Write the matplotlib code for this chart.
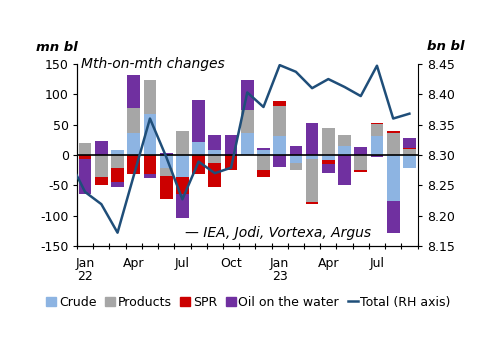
import numpy as np
import matplotlib
matplotlib.use("Agg")
import matplotlib.pyplot as plt
from matplotlib.patches import Patch
from matplotlib.lines import Line2D

plt.rcParams["font.family"] = ["DejaVu Sans"]
plt.rcParams["axes.unicode_minus"] = False

# Jan 22 .. Sep 23, month-on-month changes (mn bl)
months = ["Jan\n22", "Feb", "Mar", "Apr", "May", "Jun", "Jul", "Aug", "Sep", "Oct", "Nov", "Dec",
          "Jan\n23", "Feb", "Mar", "Apr", "May", "Jun", "Jul", "Aug", "Sep"]
crude = [0, 0, 9, 36, 68, -22, -37, 22, 9, 0, 37, 9, 31, -13, -7, -8, 15, 0, 31, -75, -21]
products = [19, -37, -22, 41, 56, -13, 40, 0, -14, 0, 37, -25, 50, -12, -70, 44, 18, -25, 20, 37, 10]
spr = [-7, -12, -22, -31, -31, -38, -28, -31, -39, -24, 0, -12, 8, 0, -4, -7, 0, -3, 1, 3, 1]
water = [-57, 23, -9, 54, -7, 4, -38, 68, 24, 33, 50, 3, -19, 14, 53, -15, -49, 13, -4, -53, 17]

# total stocks (bn bl), first value is Dec 21 (clipped at the axis)
total = [8.292, 8.239, 8.219, 8.172, 8.266, 8.360, 8.297, 8.227, 8.289, 8.270, 8.279, 8.403,
         8.379, 8.448, 8.437, 8.410, 8.425, 8.412, 8.397, 8.447, 8.360, 8.368]

shown_labels = {0: "Jan\n22", 3: "Apr", 6: "Jul", 9: "Oct", 12: "Jan\n23", 15: "Apr", 18: "Jul"}

series = [("Crude", crude, "#8db4e2"),
          ("Products", products, "#a6a6a6"),
          ("SPR", spr, "#cc0000"),
          ("Oil on the water", water, "#7030a0")]
line_color = "#1f4e79"

fig = plt.figure(figsize=(5, 3.53), dpi=100)
ax = fig.add_axes([0.154, 0.303, 0.681, 0.516])

x = np.arange(len(months))
pos_base = np.zeros(len(months))
neg_base = np.zeros(len(months))
for name, vals, col in series:
	v = np.array(vals, dtype=float)
	bottom = np.where(v >= 0, pos_base, neg_base)
	ax.bar(x, v, bottom=bottom, width=0.78, color=col, linewidth=0, zorder=2)
	pos_base += np.where(v > 0, v, 0)
	neg_base += np.where(v < 0, v, 0)

ax.axhline(0, color="black", linewidth=1.2, zorder=3)
ax.set_xlim(-0.5, len(months) - 0.5)
ax.set_ylim(-150, 150)
ax.set_yticks(np.arange(-150, 151, 50))
ax.tick_params(axis="y", labelsize=9, length=3, direction="out", pad=3)

ax.set_xticks(np.arange(-0.5, len(months), 1))
ax.set_xticklabels([])
ax.tick_params(axis="x", which="major", direction="inout", length=4)
ax.set_xticks(list(shown_labels.keys()), minor=True)
ax.set_xticklabels(list(shown_labels.values()), minor=True, fontsize=9, linespacing=1.0)
ax.tick_params(axis="x", which="minor", length=0, pad=8)

ax.spines["top"].set_visible(False)
ax.spines["right"].set_visible(False)

ax2 = ax.twinx()
ax2.plot(np.arange(-1, len(months)), total, color=line_color, linewidth=1.8, zorder=4)
ax2.set_ylim(8.15, 8.45)
ax2.set_yticks(np.arange(8.15, 8.451, 0.05))
ax2.set_yticklabels([f"{v:.2f}" for v in np.arange(8.15, 8.451, 0.05)])
ax2.tick_params(axis="y", labelsize=9, length=3, direction="out", pad=4)
ax2.spines["top"].set_visible(False)
ax2.set_xlim(-0.5, len(months) - 0.5)

ax.text(0.012, 1.0, "Mth-on-mth changes", transform=ax.transAxes, fontsize=10,
        style="italic", va="center", ha="left")
ax.text(0.317, 0.07, "— IEA, Jodi, Vortexa, Argus", transform=ax.transAxes, fontsize=10,
        style="italic", va="center", ha="left")
fig.text(0.072, 0.865, "mn bl", fontsize=9.5, style="italic", weight="bold", ha="left", va="center")
fig.text(0.854, 0.868, "bn bl", fontsize=9.5, style="italic", weight="bold", ha="left", va="center")

handles = [Patch(color=c) for _, _, c in series] + [Line2D([], [], color=line_color, linewidth=1.8)]
labels = [n for n, _, _ in series] + ["Total (RH axis)"]
fig.legend(handles, labels, loc="center", bbox_to_anchor=(0.497, 0.144), ncol=5, frameon=False,
           fontsize=9, handlelength=0.8, handleheight=0.8, handletextpad=0.2, columnspacing=0.7,
           borderaxespad=0)

fig.savefig("out.png", dpi=100)
